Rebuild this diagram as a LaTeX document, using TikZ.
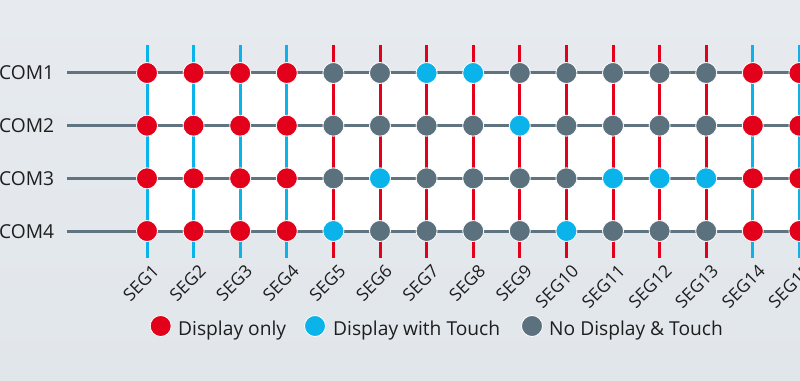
\documentclass[tikz,border=0pt]{standalone}
\usepackage{fontspec}
\setmainfont{Open Sans}
\definecolor{dred}{HTML}{E2001A}
\definecolor{dcyan}{HTML}{0AB4EA}
\definecolor{dgray}{HTML}{5B717D}
\definecolor{lgray}{HTML}{5F7480}
\definecolor{bgtop}{HTML}{E7EBEF}
\definecolor{bgbot}{HTML}{E1E6EA}
\definecolor{txt}{HTML}{1E1E1E}
\begin{document}
\begin{tikzpicture}[x=1pt,y=1pt,
  dot/.style={circle, minimum size=21pt, inner sep=0pt, draw=white, line width=0.8pt},
  dR/.style={dot, fill=dred},
  dC/.style={dot, fill=dcyan},
  dG/.style={dot, fill=dgray},
  segline/.style={line width=3pt},
  comline/.style={draw=lgray, line width=3pt},
  lbl/.style={font=\fontsize{19.2}{22}\selectfont, text=txt, inner sep=0pt},
  seglbl/.style={font=\fontsize{17.5}{20}\selectfont, text=txt, inner sep=0pt, rotate=45, anchor=east}]
\useasboundingbox (0,0) rectangle (800,380);
\clip (0,0) rectangle (800,380);
\shade[top color=bgtop, bottom color=bgbot] (0,0) rectangle (800,380);
% coordinates
\foreach \i in {1,...,15} {
  \pgfmathsetmacro\xx{147+(\i-1)*46.6}
  \coordinate (top\i) at (\xx,335);
  \coordinate (bot\i) at (\xx,122);
}
\foreach \j in {1,...,4} {
  \pgfmathsetmacro\yy{307-(\j-1)*52.67}
  \coordinate (left\j) at (67,\yy);
  \coordinate (right\j) at (810,\yy);
}
% white field
\fill[white] (top1 |- left1) rectangle (right4);
% segment lines
\foreach \i/\col in {1/dcyan,2/dcyan,3/dcyan,4/dcyan,5/dred,6/dred,7/dred,8/dred,9/dred,10/dred,11/dred,12/dred,13/dred,14/dcyan,15/dcyan}
  \draw[segline, draw=\col] (top\i) -- (bot\i);
% common lines
\foreach \j in {1,...,4}
  \draw[comline] (left\j) -- (right\j);
% dots
\foreach \r/\lst in {1/{dR,dR,dR,dR,dG,dG,dC,dC,dG,dG,dG,dG,dG,dR,dR},
                     2/{dR,dR,dR,dR,dG,dG,dG,dG,dC,dG,dG,dG,dG,dR,dR},
                     3/{dR,dR,dR,dR,dG,dC,dG,dG,dG,dG,dC,dC,dC,dR,dR},
                     4/{dR,dR,dR,dR,dC,dG,dG,dG,dG,dC,dG,dG,dG,dR,dR}} {
  \foreach \s [count=\i] in \lst {
    \node[\s] (d\r-\i) at (top\i |- left\r) {};
  }
}
% COM labels
\foreach \j in {1,...,4} {
  \pgfmathsetmacro\yy{307-(\j-1)*52.67-7}
  \node[lbl, anchor=base west] (com\j) at (-1,\yy) {COM\j};
}
% SEG labels
\foreach \i in {1,...,15} {
  \pgfmathsetmacro\xx{147+(\i-1)*46.6+9}
  \node[seglbl] (seg\i) at (\xx,112) {SEG\i};
}
% legend
\node[dR] (lg1) at (160.7,54) {};
\node[lbl, anchor=base west] (lt1) at (178,45) {Display only};
\node[dC] (lg2) at (315,54) {};
\node[lbl, anchor=base west] (lt2) at (333,45) {Display with Touch};
\node[dG] (lg3) at (532,54) {};
\node[lbl, anchor=base west] (lt3) at (549,45) {No Display \& Touch};
\end{tikzpicture}
\end{document}
